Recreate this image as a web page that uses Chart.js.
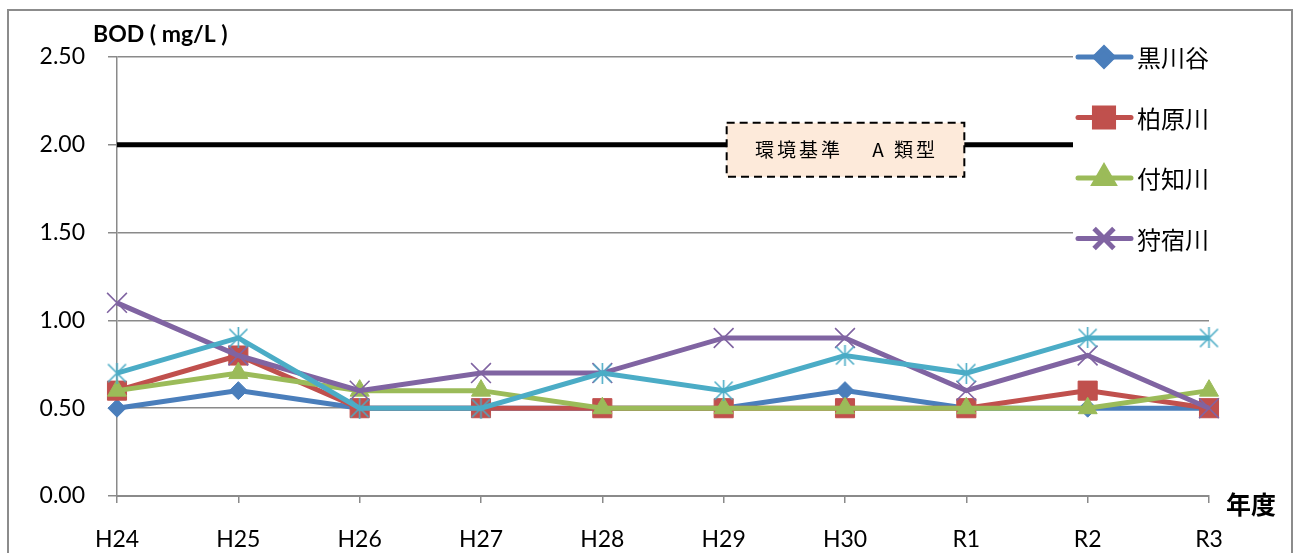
<!DOCTYPE html>
<html>
<head>
    <meta charset="utf-8">
    <title>BOD 年度推移</title>
    <script src="https://cdn.jsdelivr.net/npm/chart.js"></script>
    <style>
        body {
            margin: 0;
            padding: 0;
            background-color: #fff;
        }

        .wrap {
            position: relative;
            width: 1294px;
            height: 553px;
            overflow: hidden;
        }

        .frame {
            position: absolute;
            left: 7px;
            top: 9px;
            width: 1282px;
            height: 600px;
            border: 2px solid #8c8c8c;
        }

        canvas {
            position: absolute;
            left: 0;
            top: 0;
        }
    </style>
</head>
<body>
    <div class="wrap">
        <div class="frame"></div>
        <canvas id="myChart" width="1294" height="553"></canvas>
    </div>

    <script>
        var years = ['H24', 'H25', 'H26', 'H27', 'H28', 'H29', 'H30', 'R1', 'R2', 'R3'];
        var yTicks = [0, 0.5, 1.0, 1.5, 2.0, 2.5];

        var kurokawadani = [0.5, 0.6, 0.5, 0.5, 0.5, 0.5, 0.6, 0.5, 0.5, 0.5];
        var kashiwabara  = [0.6, 0.8, 0.5, 0.5, 0.5, 0.5, 0.5, 0.5, 0.6, 0.5];
        var tsukechi     = [0.6, 0.7, 0.6, 0.6, 0.5, 0.5, 0.5, 0.5, 0.5, 0.6];
        var karishuku    = [1.1, 0.8, 0.6, 0.7, 0.7, 0.9, 0.9, 0.6, 0.8, 0.5];
        var sonota       = [0.7, 0.9, 0.5, 0.5, 0.7, 0.6, 0.8, 0.7, 0.9, 0.9];

        var kijunValue = 2.0;
        var kijunLabel = '環境基準　 A 類型';

        var FONT = 'Lato, "Noto Sans CJK JP", sans-serif';
        var JP = '"Noto Sans CJK JP", sans-serif';

        // Excel風のアスタリスク型マーカー（×＋縦線）
        function makeStar(color, size) {
            var c = document.createElement('canvas');
            c.width = size;
            c.height = size;
            var g = c.getContext('2d');
            var m = 1.5;
            g.strokeStyle = color;
            g.lineWidth = 1.6;
            g.beginPath();
            g.moveTo(m, m); g.lineTo(size - m, size - m);
            g.moveTo(size - m, m); g.lineTo(m, size - m);
            g.moveTo(size / 2, 0); g.lineTo(size / 2, size);
            g.stroke();
            return c;
        }
        var starCyan = makeStar('#4bacc6', 21);

        function series(label, data, color, style, radius, order) {
            return {
                label: label,
                data: data,
                borderColor: color,
                backgroundColor: color,
                borderWidth: 5,
                pointStyle: style,
                pointRadius: radius,
                pointHoverRadius: radius,
                pointBorderWidth: style === 'crossRot' ? 1.6 : 1,
                pointBorderColor: color,
                pointBackgroundColor: color,
                tension: 0,
                order: order
            };
        }

        var datasets = [
            {
                label: '環境基準 A類型',
                data: years.map(function () { return kijunValue; }),
                borderColor: '#000',
                borderWidth: 5,
                pointRadius: 0,
                pointHoverRadius: 0,
                order: 6,
                isKijun: true
            },
            series('黒川谷', kurokawadani, '#4a7ebb', 'rectRot', 9, 5),
            series('柏原川', kashiwabara, '#c0504d', 'rect', 13.5, 4),
            series('付知川', tsukechi, '#9bbb59', 'triangle', 11, 3),
            series('狩宿川', karishuku, '#8064a2', 'crossRot', 14, 2),
            series('その他', sonota, '#4bacc6', starCyan, 10, 1)
        ];

        // 環境基準の枠・凡例・軸タイトル
        var extras = {
            id: 'extras',
            afterDatasetsDraw: function (chart) {
                var ctx = chart.ctx;
                var xs = chart.scales.x;
                var ys = chart.scales.y;

                // 環境基準ラベルの枠
                var yk = ys.getPixelForValue(kijunValue);
                var bx1 = xs.getPixelForValue(5) + 3;
                var bx2 = xs.getPixelForValue(7) - 2;
                var by1 = yk - 22;
                var by2 = yk + 32;
                ctx.save();
                ctx.fillStyle = '#fdeada';
                ctx.fillRect(bx1, by1, bx2 - bx1, by2 - by1);
                ctx.setLineDash([8, 5]);
                ctx.lineWidth = 2;
                ctx.strokeStyle = '#000';
                ctx.strokeRect(bx1, by1, bx2 - bx1, by2 - by1);
                ctx.setLineDash([]);
                ctx.fillStyle = '#000';
                ctx.font = '19px ' + JP;
                ctx.letterSpacing = '3px';
                ctx.textAlign = 'center';
                ctx.textBaseline = 'middle';
                ctx.fillText(kijunLabel, (bx1 + bx2) / 2 + 1, (by1 + by2) / 2);
                ctx.letterSpacing = '0px';

                // 凡例（グラフ上に重ねて白地で描く）
                ctx.fillStyle = '#fff';
                ctx.fillRect(1073, 30, 158, 234);
                var rows = chart.data.datasets.filter(function (d) {
                    return !d.isKijun && d.label !== 'その他';
                });
                rows.forEach(function (d, i) {
                    var cy = 57 + i * 60.5;
                    ctx.strokeStyle = d.borderColor;
                    ctx.lineWidth = 5;
                    ctx.lineCap = 'round';
                    ctx.beginPath();
                    ctx.moveTo(1078, cy);
                    ctx.lineTo(1131, cy);
                    ctx.stroke();
                    ctx.lineCap = 'butt';
                    ctx.fillStyle = d.pointBackgroundColor;
                    ctx.strokeStyle = d.pointBorderColor;
                    Chart.helpers.drawPoint(ctx, {
                        pointStyle: d.pointStyle,
                        radius: d.pointRadius,
                        rotation: 0,
                        borderWidth: d.pointBorderWidth
                    }, 1104, cy);
                    ctx.fillStyle = '#000';
                    ctx.font = '24px ' + JP;
                    ctx.textAlign = 'left';
                    ctx.textBaseline = 'middle';
                    ctx.fillText(d.label, 1137, cy + 1);
                });

                // 軸タイトル
                ctx.fillStyle = '#000';
                ctx.font = 'bold 23px ' + FONT;
                ctx.textAlign = 'left';
                ctx.textBaseline = 'middle';
                ctx.fillText('BOD ( mg/L )', 93, 35);
                ctx.font = 'bold 25px ' + JP;
                ctx.fillText('年度', 1226, 504);
                ctx.restore();
            }
        };

        var myChart = new Chart(document.getElementById('myChart').getContext('2d'), {
            type: 'line',
            data: {
                labels: years,
                datasets: datasets
            },
            plugins: [extras],
            options: {
                responsive: false,
                devicePixelRatio: 1,
                animation: false,
                layout: {
                    padding: { top: 57, right: 85, left: 0, bottom: 0 }
                },
                plugins: {
                    legend: { display: false },
                    tooltip: { enabled: false }
                },
                scales: {
                    x: {
                        offset: false,
                        grid: {
                            drawOnChartArea: false,
                            drawTicks: true,
                            tickLength: 7,
                            color: '#8a8a8a',
                            lineWidth: 1.5
                        },
                        border: { color: '#8a8a8a', width: 2 },
                        ticks: {
                            autoSkip: false,
                            maxRotation: 0,
                            padding: 23,
                            color: '#000',
                            font: { family: FONT, size: 23 }
                        },
                        afterFit: function (scale) { scale.height = 57; }
                    },
                    y: {
                        min: yTicks[0],
                        max: yTicks[yTicks.length - 1],
                        afterBuildTicks: function (scale) {
                            scale.ticks = yTicks.map(function (v) { return { value: v }; });
                        },
                        grid: {
                            color: '#8a8a8a',
                            lineWidth: 1.5,
                            tickLength: 9
                        },
                        border: { color: '#8a8a8a', width: 1.5 },
                        ticks: {
                            padding: 23,
                            color: '#000',
                            font: { family: FONT, size: 23 },
                            callback: function (v) { return Number(v).toFixed(2); }
                        },
                        afterFit: function (scale) { scale.width = 117; }
                    }
                }
            }
        });
    </script>
</body>
</html>
